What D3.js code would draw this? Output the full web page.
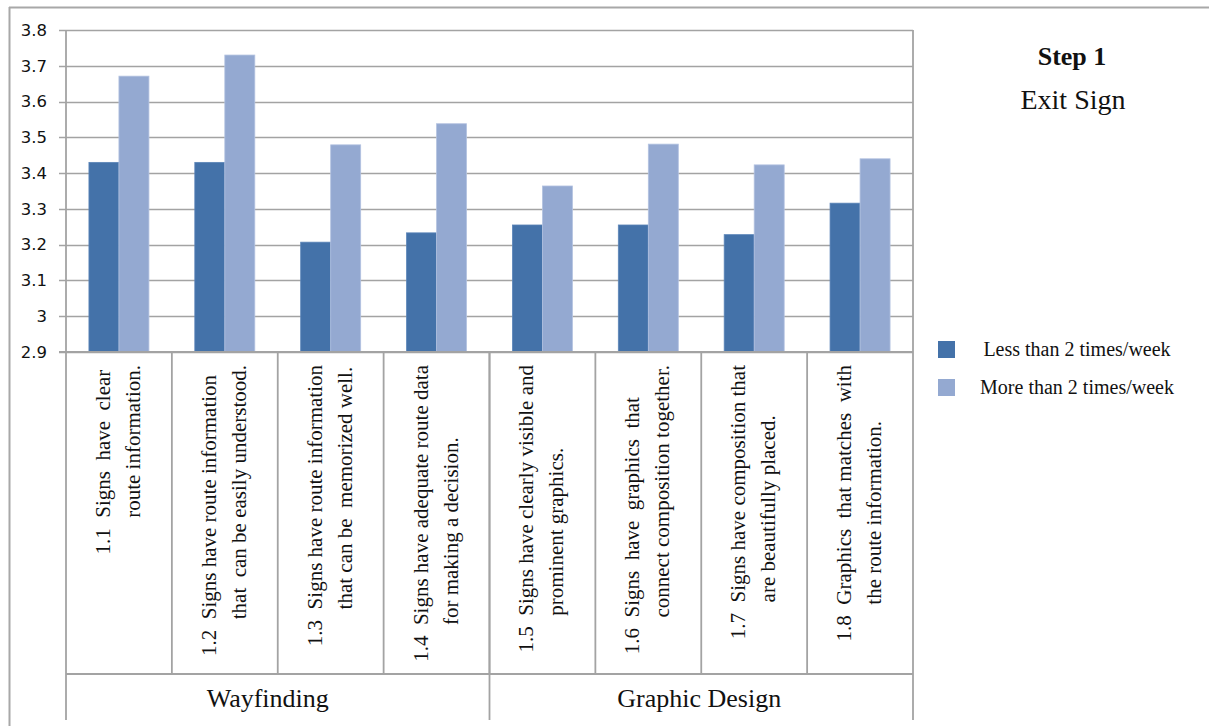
<!DOCTYPE html>
<html><head><meta charset="utf-8">
<script src="https://cdn.jsdelivr.net/npm/d3@7/dist/d3.min.js"></script>
<style>
html,body{margin:0;padding:0;background:#fff;}
svg{display:block;}
</style></head>
<body><svg id="chart" width="1209" height="726"></svg>
<script>
// ---- data ----
const categories = ["1.1","1.2","1.3","1.4","1.5","1.6","1.7","1.8"];
const labelLine1 = [
  "1.1  Signs  have  clear",
  "1.2  Signs have route information",
  "1.3  Signs have route information",
  "1.4  Signs have adequate route data",
  "1.5  Signs have clearly visible and",
  "1.6  Signs  have  graphics  that",
  "1.7  Signs have composition that",
  "1.8  Graphics  that matches  with"
];
const labelLine2 = [
  "route information.",
  "that  can be easily understood.",
  "that can be  memorized well.",
  "for making a decision.",
  "prominent graphics.",
  "connect composition together.",
  "are beautifully placed.",
  "the route information."
];
const seriesNames = ["Less than 2 times/week","More than 2 times/week"];
const lessThan2 = [3.43, 3.43, 3.207, 3.233, 3.255, 3.255, 3.228, 3.316];
const moreThan2 = [3.671, 3.73, 3.479, 3.538, 3.364, 3.481, 3.423, 3.44];
const groups = ["Wayfinding","Graphic Design"];
const groupSpans = [[0,3],[4,7]];
const yTicks = [2.9,3.0,3.1,3.2,3.3,3.4,3.5,3.6,3.7,3.8];
const tickLabels = ["2.9","3","3.1","3.2","3.3","3.4","3.5","3.6","3.7","3.8"];
const title = "Step 1";
const subtitle = "Exit Sign";
const colors = ["#4472a9","#94a9d1"];

// ---- layout ----
const svg = d3.select("#chart");
const plotL = 66, plotR = 913, plotT = 30, plotB = 352;
const catBottom = 674, grpBottom = 720;
const gridColor = "#a3a3a3";
const serif = "'Liberation Serif','Times New Roman',serif";

const y = d3.scaleLinear().domain([2.9,3.8]).range([plotB, plotT]);
const x = d3.scaleBand().domain(categories).range([plotL, plotR]).paddingInner(0).paddingOuter(0);
const bw = x.bandwidth();
const x1 = d3.scaleBand().domain(seriesNames).range([0, bw]).paddingInner(0).paddingOuter((bw/30 - 2)/2);

// outer frame (top and left)
svg.append("line").attr("x1",9).attr("x2",1209).attr("y1",7.5).attr("y2",7.5)
  .attr("stroke","#a8a8a8").attr("stroke-width",2);
svg.append("line").attr("x1",9.5).attr("x2",9.5).attr("y1",7).attr("y2",726)
  .attr("stroke","#a8a8a8").attr("stroke-width",2);

// gridlines
svg.append("g").selectAll("line").data(yTicks).join("line")
  .attr("x1", plotL-7).attr("x2", plotR)
  .attr("y1", d=>Math.round(y(d))+0.5).attr("y2", d=>Math.round(y(d))+0.5)
  .attr("stroke", gridColor).attr("stroke-width",1.6);

// y axis
const yAxis = d3.axisLeft(y).tickValues(yTicks).tickFormat((d,i)=>tickLabels[i]).tickSize(0).tickPadding(19);
const ya = svg.append("g").attr("transform",`translate(${plotL},0)`).call(yAxis);
ya.select(".domain").remove();
ya.selectAll("text").attr("font-family","'DejaVu Sans',Verdana,sans-serif").attr("font-size",16.5).attr("fill","#111");
svg.append("line").attr("x1",plotL).attr("x2",plotL).attr("y1",plotT).attr("y2",grpBottom)
  .attr("stroke",gridColor).attr("stroke-width",1.8);

// bars
const series = [lessThan2, moreThan2];
const bars = svg.append("g");
series.forEach((vals, si) => {
  bars.selectAll(null).data(vals).join("rect")
    .attr("x", (d,i)=>x(categories[i]) + x1(seriesNames[si]))
    .attr("width", x1.bandwidth())
    .attr("y", d=>y(d))
    .attr("height", d=>y(2.9)-y(d))
    .attr("fill", colors[si])
    .attr("stroke", si===0 ? "#5b85b8" : "#b3c2e0")
    .attr("stroke-width", 0.8);
});

// table below: category cells
const tbl = svg.append("g").attr("stroke", gridColor).attr("stroke-width",1.8);
tbl.append("line").attr("x1",plotL-7).attr("x2",plotR).attr("y1",plotB).attr("y2",plotB);
tbl.append("line").attr("x1",plotL).attr("x2",plotR).attr("y1",catBottom).attr("y2",catBottom);
tbl.selectAll(null).data(categories.slice(1)).join("line")
  .attr("x1", d=>x(d)).attr("x2", d=>x(d)).attr("y1", plotB).attr("y2", catBottom);
tbl.append("line").attr("x1",plotR).attr("x2",plotR).attr("y1",plotT).attr("y2",grpBottom);
groupSpans.slice(1).forEach(s=>{
  tbl.append("line").attr("x1",x(categories[s[0]])).attr("x2",x(categories[s[0]])).attr("y1",plotB).attr("y2",grpBottom);
});

// category labels (rotated, hanging indent)
const labG = svg.append("g").attr("font-family", serif).attr("font-size",21).attr("fill","#111");
categories.forEach((c,i)=>{
  const cx = x(c) + bw/2;
  const prefix = labelLine1[i].match(/^\S+\s+/)[0];
  const g = labG.append("g");
  const t1 = g.append("text").text(labelLine1[i]).style("white-space","pre");
  const t2 = g.append("text").text(labelLine2[i]).style("white-space","pre");
  const tp = g.append("text").text(prefix).style("white-space","pre").attr("opacity",0);
  const w1 = t1.node().getComputedTextLength();
  const w2 = t2.node().getComputedTextLength();
  const ind = tp.node().getComputedTextLength();
  tp.remove();
  const topY = 365;
  const start = topY + Math.max(w1, w2 + ind);
  t1.attr("transform",`translate(${cx-9},${start}) rotate(-90)`);
  t2.attr("transform",`translate(${cx+21},${start-ind}) rotate(-90)`);
});

// group labels
groups.forEach((gname,gi)=>{
  const s = groupSpans[gi];
  const x0 = x(categories[s[0]]), x1e = x(categories[s[1]]) + bw;
  svg.append("text").attr("x",(x0+x1e)/2 - (gi===0 ? 10 : 2)).attr("y",707).attr("text-anchor","middle")
    .attr("font-family",serif).attr("font-size",26).attr("fill","#111").text(gname);
});

// title
svg.append("text").attr("x",1072).attr("y",65).attr("text-anchor","middle")
  .attr("font-family",serif).attr("font-size",26).attr("font-weight","bold").attr("fill","#111").text(title);
svg.append("text").attr("x",1073).attr("y",109).attr("text-anchor","middle")
  .attr("font-family",serif).attr("font-size",28).attr("fill","#111").text(subtitle);

// legend
const leg = svg.append("g");
seriesNames.forEach((n,i)=>{
  const ly = 341 + i*38;
  leg.append("rect").attr("x",938).attr("y",ly).attr("width",17).attr("height",17).attr("fill",colors[i]);
  leg.append("text").attr("x",1077).attr("y",ly+15).attr("text-anchor","middle")
    .attr("font-family",serif).attr("font-size",20).attr("fill","#111").text(n);
});
</script>
</body></html>
